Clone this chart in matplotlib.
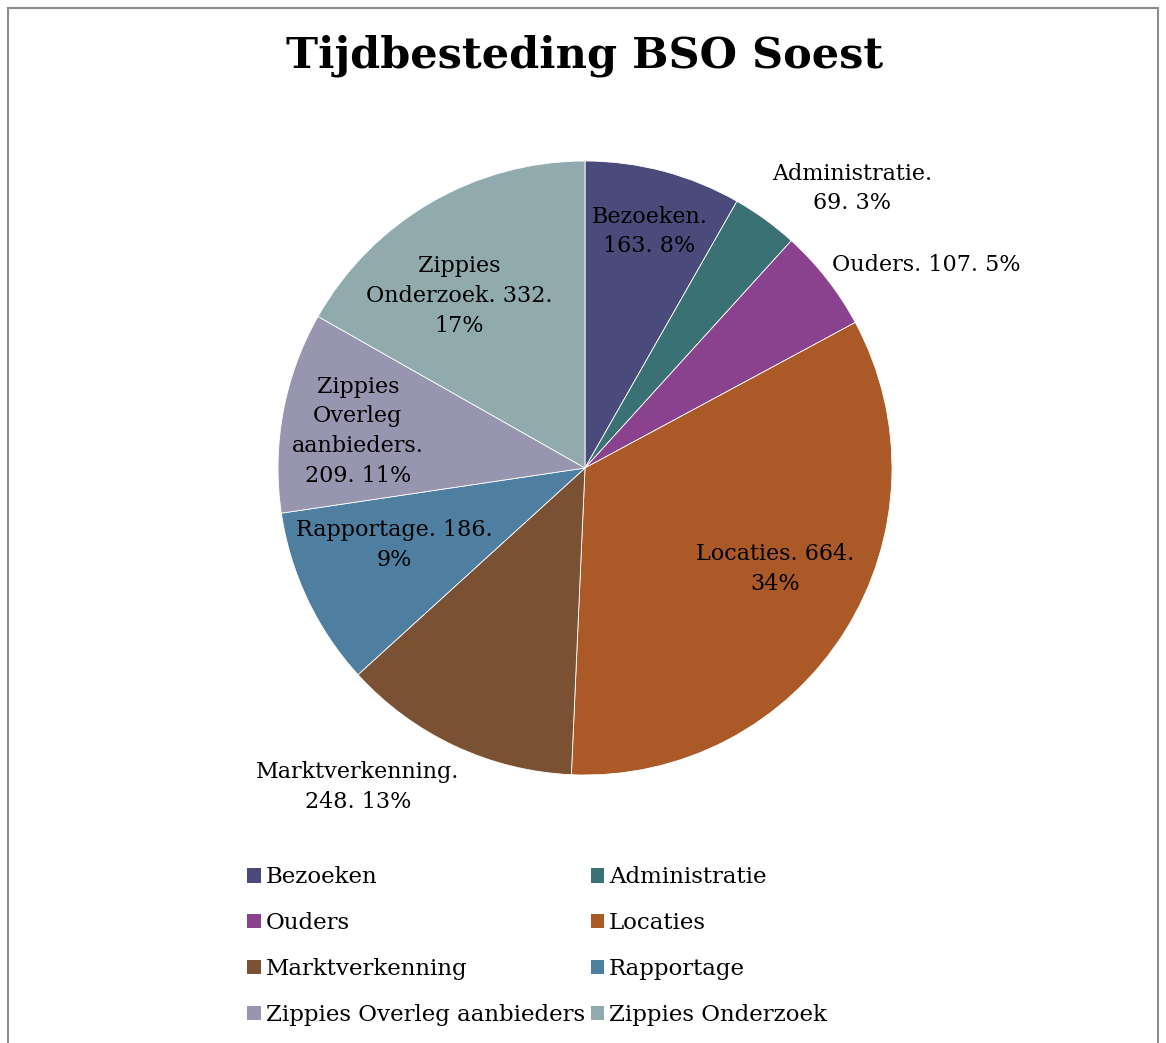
import matplotlib
matplotlib.use("Agg")
import matplotlib.pyplot as plt
from matplotlib.patches import Patch, Rectangle

plt.rcParams.update({"font.family": "DejaVu Serif"})

categories = ["Bezoeken", "Administratie", "Ouders", "Locaties",
              "Marktverkenning", "Rapportage", "Zippies Overleg aanbieders",
              "Zippies Onderzoek"]
values = [163, 69, 107, 664, 248, 186, 209, 332]
percents = [8, 3, 5, 34, 13, 9, 11, 17]
label_texts = ["Bezoeken.\n163. 8%", "Administratie.\n69. 3%", "Ouders. 107. 5%",
               "Locaties. 664.\n34%", "Marktverkenning.\n248. 13%",
               "Rapportage. 186.\n9%", "Zippies\nOverleg\naanbieders.\n209. 11%",
               "Zippies\nOnderzoek. 332.\n17%"]
colors = ["#4A4A7B", "#397175", "#8B428E", "#AB5926",
          "#7B5133", "#4E7FA1", "#9795B0", "#91AAAD"]

# label anchor points in pie-radius units (centre = 0,0)
label_pos = [(0.21, 0.77), (0.87, 0.91), (1.11, 0.66), (0.62, -0.33),
             (-0.74, -1.04), (-0.62, -0.25), (-0.74, 0.12), (-0.41, 0.56)]

W, H = 1166, 1043
CX, CY, R = 585, 468, 307

fig = plt.figure(figsize=(W / 100, H / 100), dpi=100)
ax = fig.add_axes([0, 0, 1, 1])

wedges, _ = ax.pie(values, colors=colors, startangle=90, counterclock=False,
                   radius=1.0, wedgeprops=dict(edgecolor="white", linewidth=0.6))
ax.set_xlim(-CX / R, (W - CX) / R)
ax.set_ylim((CY - H) / R, CY / R)
ax.axis("off")

# outer chart-area frame
fig.patches.append(Rectangle((8 / W, -0.05), (W - 16) / W, 1 - 8 / H + 0.05,
                             transform=fig.transFigure, fill=False,
                             edgecolor="#8C8C8C", linewidth=1.5))

for (x, y), s in zip(label_pos, label_texts):
    ax.text(x, y, s, fontsize=16, ha="center", va="center", linespacing=1.45)

fig.text(CX / W, 1 - 56 / H, "Tijdbesteding BSO Soest", fontsize=31,
         fontweight="bold", ha="center", va="center")

order = [0, 2, 4, 6, 1, 3, 5, 7]
handles = [Patch(facecolor=colors[i], edgecolor="none") for i in order]
labels = [categories[i] for i in order]
fig.legend(handles, labels, ncol=2, loc="upper left",
           bbox_to_anchor=(236 / W, 1 - 855 / H), frameon=False,
           fontsize=16.5, handlelength=0.6, handleheight=0.6, handletextpad=0.2,
           columnspacing=0.25, labelspacing=1.04, borderpad=0)

fig.savefig("out.png", dpi=100)
